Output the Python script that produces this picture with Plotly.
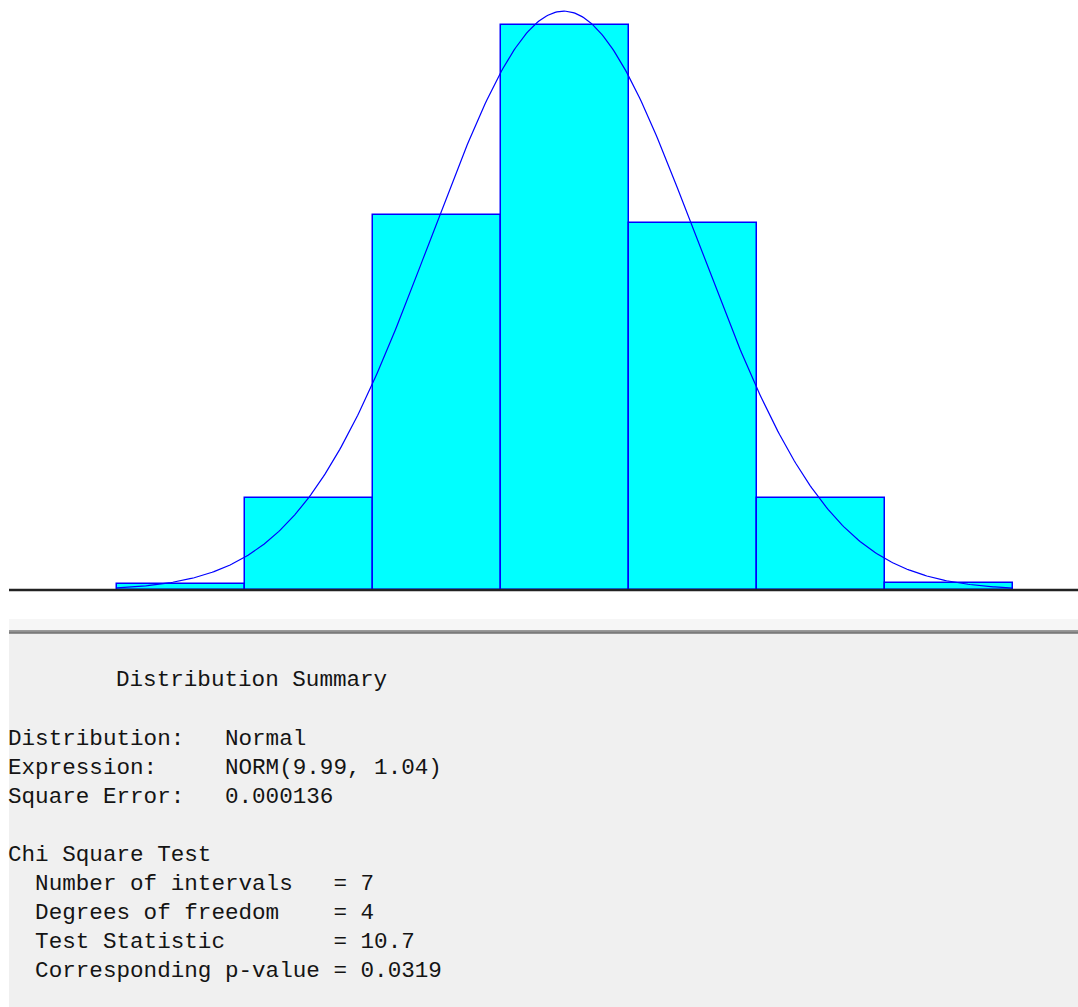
import numpy as np
import plotly.graph_objects as go

# ---- data ----
bin_centers = [7, 8, 9, 10, 11, 12, 13]
bin_width = 1.0
rel_freq = [0.0038, 0.061, 0.2488, 0.3745, 0.2435, 0.061, 0.0048]
fit_mean = 9.99
fit_std = 1.04

summary_title = "Distribution Summary"
summary_lines = [
    "Distribution:   Normal",
    "Expression:     NORM(9.99, 1.04)",
    "Square Error:   0.000136",
    "",
    "Chi Square Test",
    "  Number of intervals   = 7",
    "  Degrees of freedom    = 4",
    "  Test Statistic        = 10.7",
    "  Corresponding p-value = 0.0319",
]

W, H = 1078, 1007

# fitted density curve (scaled to per-bin proportion)
xs = np.linspace(bin_centers[0] - bin_width / 2, bin_centers[-1] + bin_width / 2, 500)
ys = bin_width / (fit_std * np.sqrt(2 * np.pi)) * np.exp(-0.5 * ((xs - fit_mean) / fit_std) ** 2)

fig = go.Figure()
fig.add_trace(go.Bar(
    x=bin_centers, y=rel_freq, width=[bin_width] * len(bin_centers),
    marker=dict(color="#00ffff", line=dict(color="#0000ff", width=1.5)),
    showlegend=False, hoverinfo="skip",
))
fig.add_trace(go.Scatter(
    x=xs, y=ys, mode="lines", line=dict(color="#0000ff", width=1.2),
    showlegend=False, hoverinfo="skip",
))

def py(px):
    return 1 - px / H

def pxx(px):
    return px / W

shapes = [
    # grey summary panel
    dict(type="rect", xref="paper", yref="paper", x0=pxx(9), x1=1, y0=py(1007), y1=py(634),
         fillcolor="#f0f0f0", line=dict(width=0), layer="below"),
    dict(type="rect", xref="paper", yref="paper", x0=pxx(9), x1=1, y0=py(630), y1=py(619),
         fillcolor="#f6f6f6", line=dict(width=0), layer="below"),
    dict(type="rect", xref="paper", yref="paper", x0=pxx(9), x1=1, y0=py(634), y1=py(630),
         fillcolor="#9a9a9a", line=dict(width=0), layer="below"),
    dict(type="line", xref="paper", yref="paper", x0=pxx(9), x1=1, y0=py(632.5), y1=py(632.5),
         line=dict(color="#7a7a7a", width=1.5), layer="below"),
    # baseline
    dict(type="line", xref="paper", yref="paper", x0=pxx(9), x1=1, y0=py(590), y1=py(590),
         line=dict(color="#222222", width=2.6), layer="above"),
]

font = dict(family="Liberation Mono, Courier New, monospace", size=22.6, color="#141414")
annotations = [dict(
    text=summary_title.replace(" ", "\u00a0"), xref="paper", yref="paper",
    x=pxx(114), y=py(687 - 7), xanchor="left", yanchor="middle",
    showarrow=False, font=font,
)]
for i, line in enumerate(summary_lines):
    if not line:
        continue
    baseline = 746 + 29 * i
    annotations.append(dict(
        text=line.replace(" ", "\u00a0"), xref="paper", yref="paper",
        x=pxx(6), y=py(baseline - 7), xanchor="left", yanchor="middle",
        showarrow=False, font=font,
    ))

x_left = 6.5 - 117 / 128
x_right = 6.5 + (W - 117) / 128
fig.update_layout(
    width=W, height=H,
    margin=dict(l=0, r=0, t=0, b=0, pad=0),
    paper_bgcolor="white", plot_bgcolor="white",
    bargap=0,
    xaxis=dict(range=[x_left, x_right], visible=False, domain=[0, 1]),
    yaxis=dict(range=[0, 590 / 1509], visible=False, domain=[1 - 590 / H, 1]),
    shapes=shapes, annotations=annotations,
)
fig.write_html("out.html")
